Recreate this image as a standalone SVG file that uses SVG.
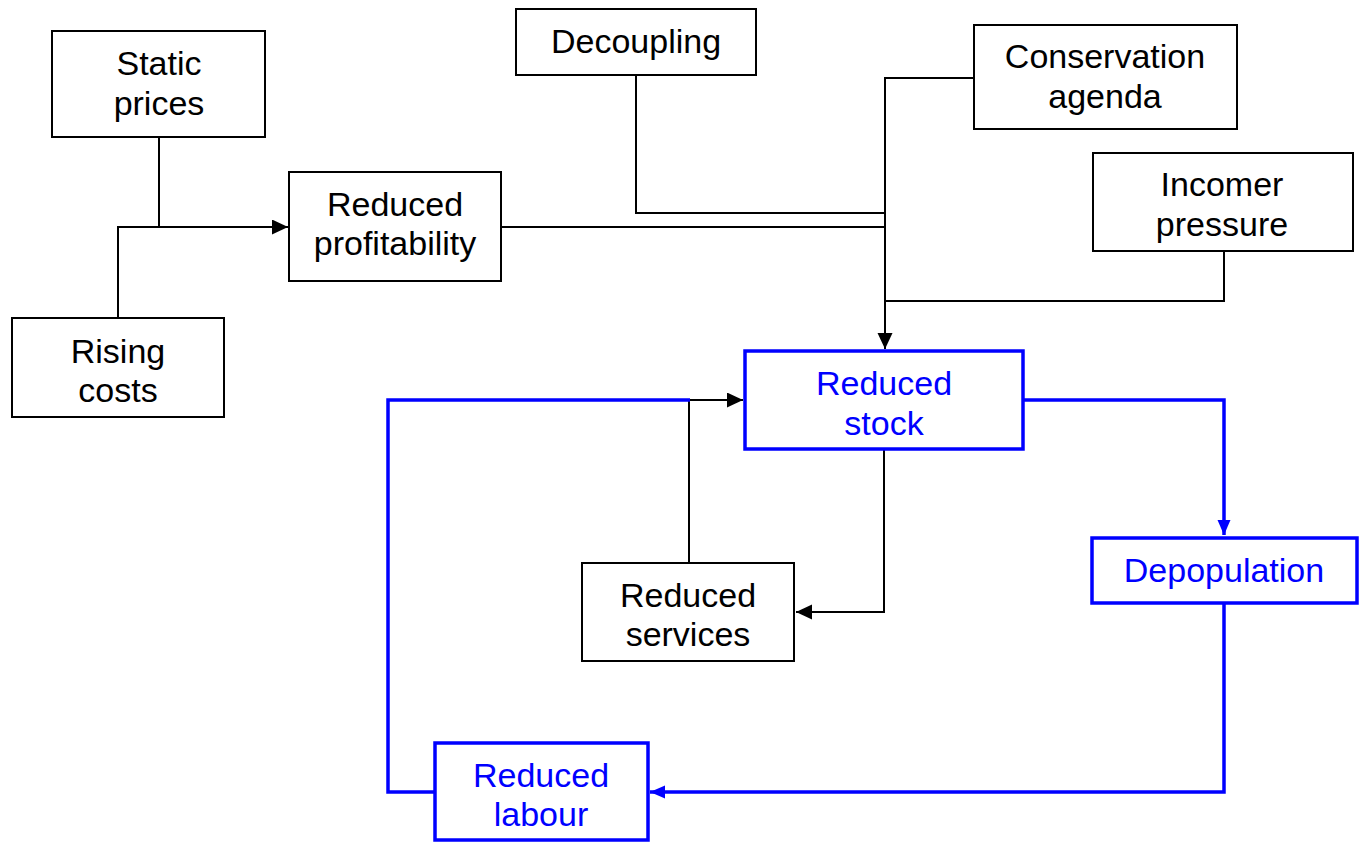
<svg xmlns="http://www.w3.org/2000/svg" width="1359" height="842" viewBox="0 0 1359 842">
<style>
.box{fill:#fff;stroke:#000;stroke-width:2}
.bbox{fill:#fff;stroke:#0000ff;stroke-width:3.5}
.t{font-family:"Liberation Sans",Arial,sans-serif;font-size:34px;text-anchor:middle;fill:#000}
.bt{font-family:"Liberation Sans",Arial,sans-serif;font-size:34px;text-anchor:middle;fill:#0000ff}
.c{fill:none;stroke:#000;stroke-width:2}
.bc{fill:none;stroke:#0000ff;stroke-width:3.5}
</style>
<defs>
<marker id="ah" markerUnits="userSpaceOnUse" markerWidth="18" markerHeight="16" refX="16" refY="7.5" orient="auto">
<path d="M0,0 L16,7.5 L0,15 z" fill="#000"/>
</marker>
<marker id="bh" markerUnits="userSpaceOnUse" markerWidth="17" markerHeight="15" refX="15" refY="6.5" orient="auto">
<path d="M0,0 L15,6.5 L0,13 z" fill="#0000ff"/>
</marker>
</defs>
<rect width="1359" height="842" fill="#fff"/>
<g id="connectors">
<path class="c" d="M159,137 V227"/>
<path class="c" d="M118,318 V227 H288" marker-end="url(#ah)"/>
<path class="c" d="M636,75 V213 H885"/>
<path class="c" d="M501,227 H885"/>
<path class="c" d="M1224,251 V301 H885"/>
<path class="c" d="M974,78 H885 V349" marker-end="url(#ah)"/>
<path class="c" d="M884,449 V612 H796" marker-end="url(#ah)"/>
<path class="c" d="M689,563 V400 H743" marker-end="url(#ah)"/>
<path class="bc" d="M435,792 H388 V400 H690"/>
<path class="bc" d="M1023,400 H1224 V535" marker-end="url(#bh)"/>
<path class="bc" d="M1224,603 V792 H650" marker-end="url(#bh)"/>
</g>
<g id="static-prices">
<rect class="box" x="52" y="31" width="213" height="106"/>
<text class="t" x="159" y="75">Static</text>
<text class="t" x="159" y="115">prices</text>
</g>
<g id="rising-costs">
<rect class="box" x="12" y="318" width="212" height="99"/>
<text class="t" x="118" y="363">Rising</text>
<text class="t" x="118" y="402">costs</text>
</g>
<g id="reduced-profitability">
<rect class="box" x="289" y="172" width="212" height="109"/>
<text class="t" x="395" y="216">Reduced</text>
<text class="t" x="395" y="255">profitability</text>
</g>
<g id="decoupling">
<rect class="box" x="516" y="9" width="240" height="66"/>
<text class="t" x="636" y="53">Decoupling</text>
</g>
<g id="conservation-agenda">
<rect class="box" x="974" y="25" width="263" height="104"/>
<text class="t" x="1105" y="68">Conservation</text>
<text class="t" x="1105" y="108">agenda</text>
</g>
<g id="incomer-pressure">
<rect class="box" x="1093" y="153" width="260" height="98"/>
<text class="t" x="1222" y="196">Incomer</text>
<text class="t" x="1222" y="236">pressure</text>
</g>
<g id="reduced-stock">
<rect class="bbox" x="745" y="351" width="278" height="98"/>
<text class="bt" x="884" y="395">Reduced</text>
<text class="bt" x="884" y="435">stock</text>
</g>
<g id="depopulation">
<rect class="bbox" x="1092" y="538" width="265" height="65"/>
<text class="bt" x="1224" y="582">Depopulation</text>
</g>
<g id="reduced-services">
<rect class="box" x="582" y="563" width="212" height="98"/>
<text class="t" x="688" y="607">Reduced</text>
<text class="t" x="688" y="646">services</text>
</g>
<g id="reduced-labour">
<rect class="bbox" x="435" y="743" width="213" height="97"/>
<text class="bt" x="541" y="787">Reduced</text>
<text class="bt" x="541" y="826">labour</text>
</g>
</svg>
